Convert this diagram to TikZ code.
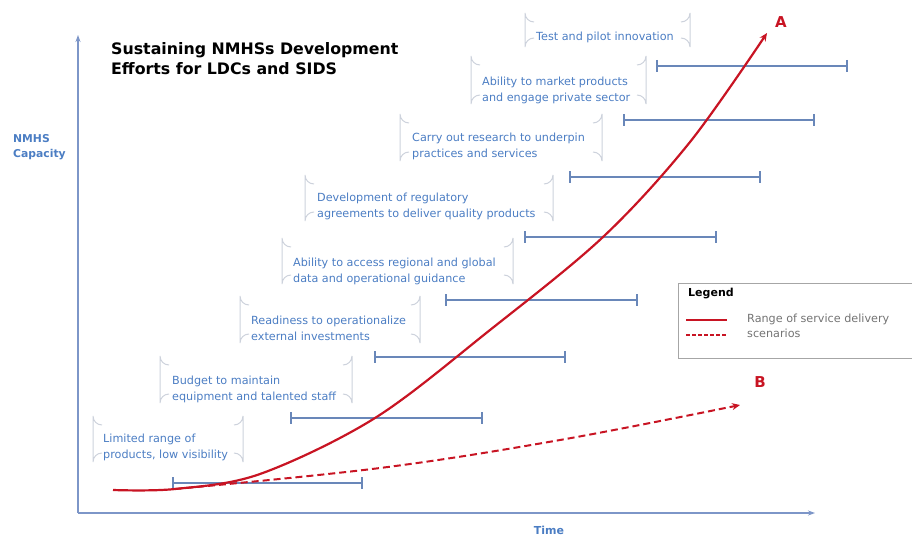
\documentclass[tikz,border=0pt]{standalone}
\usepackage{fontspec}
\setmainfont{DejaVu Sans}
\usetikzlibrary{arrows.meta}
\definecolor{cred}{RGB}{200,20,35}
\definecolor{cbar}{RGB}{105,135,185}
\definecolor{ctext}{RGB}{75,125,195}
\definecolor{caxis}{RGB}{125,150,200}
\definecolor{cbrk}{RGB}{205,210,220}
\tikzset{
  lbl/.style={anchor=north west,inner sep=0pt,text=ctext,font=\fontsize{11.2}{15.5}\selectfont,align=left},
  rbar/.style={draw=cbar,line width=1.2pt},
  brk/.style={draw=cbrk,line width=1pt},
}
\newcommand{\brackbox}[4]{% left, right, top, bottom
  \draw[brk] (#1+9,#3) arc[start angle=90,end angle=180,radius=9] -- (#1,#4-9) arc[start angle=180,end angle=270,radius=9];
  \draw[brk] (#2-9,#3) arc[start angle=90,end angle=0,radius=9] -- (#2,#4-9) arc[start angle=0,end angle=-90,radius=9];
}
\newcommand{\rangebar}[3]{% x1,x2,y
  \draw[rbar] (#1,#3) -- (#2,#3);
  \draw[rbar] (#1,#3-6) -- (#1,#3+6);
  \draw[rbar] (#2,#3-6) -- (#2,#3+6);
}
\begin{document}
\begin{tikzpicture}[x=1pt,y=-1pt]
\useasboundingbox (0,0) rectangle (912,535);
% axes
\coordinate (O) at (78,513);
\coordinate (Ytop) at (78,35);
\coordinate (Xend) at (815,513);
\draw[caxis,line width=1.3pt,-{Stealth[length=7pt,width=5pt]}] (O) -- (Ytop);
\draw[caxis,line width=1.3pt,-{Stealth[length=7pt,width=5pt]}] (O) -- (Xend);
\node[anchor=north west,inner sep=0pt,text=ctext,font=\bfseries\fontsize{10.8}{15}\selectfont,align=left] (ylab) at (13,134) {NMHS\\Capacity};
\node[inner sep=0pt,text=ctext,font=\bfseries\fontsize{11}{12}\selectfont] (xlab) at (549,530) {Time};
% title
\node[anchor=north west,inner sep=0pt,font=\bfseries\fontsize{15.8}{20}\selectfont,align=left] (title) at (111,42) {Sustaining NMHSs Development\\Efforts for LDCs and SIDS};
% boxes
\brackbox{93}{243}{425}{471}
\node[lbl] (t1) at (103,434) {Limited range of\\products, low visibility};
\brackbox{160}{352}{365}{412}
\node[lbl] (t2) at (172,376) {Budget to maintain\\equipment and talented staff};
\brackbox{240}{420}{305}{352}
\node[lbl] (t3) at (251,316) {Readiness to operationalize\\external investments};
\brackbox{282}{513}{247}{293}
\node[lbl] (t4) at (293,258) {Ability to access regional and global\\data and operational guidance};
\brackbox{305}{553}{184}{230}
\node[lbl] (t5) at (317,193) {Development of regulatory\\agreements to deliver quality products};
\brackbox{400}{602}{123}{170}
\node[lbl] (t6) at (412,133) {Carry out research to underpin\\practices and services};
\brackbox{471}{646}{65}{113}
\node[lbl] (t7) at (482,77) {Ability to market products\\and engage private sector};
\brackbox{525}{690}{22}{56}
\node[lbl] (t8) at (536,32) {Test and pilot innovation};
% range bars
\rangebar{173}{362}{483}
\rangebar{291}{482}{418}
\rangebar{375}{565}{357}
\rangebar{446}{637}{300}
\rangebar{525}{716}{237}
\rangebar{570}{760}{177}
\rangebar{624}{814}{120}
\rangebar{657}{847}{66}
% curves
\draw[cred,line width=2.2pt,-{Stealth[length=8pt,width=7pt]}] plot[smooth,tension=0.55] coordinates {(113,490) (175,489) (260,474) (375,418) (490,330) (603,237) (690,142) (767,33)};
\draw[cred,line width=2pt,dash pattern=on 7pt off 4pt,-{Stealth[length=8pt,width=7pt]}] plot[smooth,tension=0.6] coordinates {(175,489) (380,468) (560,440) (740,405)};
\node[text=cred,font=\bfseries\fontsize{15}{16}\selectfont,inner sep=0pt] (A) at (781,22) {A};
\node[text=cred,font=\bfseries\fontsize{15}{16}\selectfont,inner sep=0pt] (B) at (760,382) {B};
% legend
\draw[draw=gray!70,line width=1pt] (678,283) rectangle (930,358);
\node[anchor=west,inner sep=0pt,font=\bfseries\fontsize{11}{12}\selectfont] (leg) at (688,294) {Legend};
\coordinate (l1a) at (686,320); \coordinate (l1b) at (727,320);
\coordinate (l2a) at (686,335); \coordinate (l2b) at (727,335);
\draw[cred,line width=2pt] (l1a) -- (l1b);
\draw[cred,line width=2pt,dash pattern=on 4pt off 2pt] (l2a) -- (l2b);
\node[anchor=north west,inner sep=0pt,text=gray!90!black,font=\fontsize{11.2}{15}\selectfont,align=left] (legt) at (747,314) {Range of service delivery\\scenarios};
\end{tikzpicture}
\end{document}
